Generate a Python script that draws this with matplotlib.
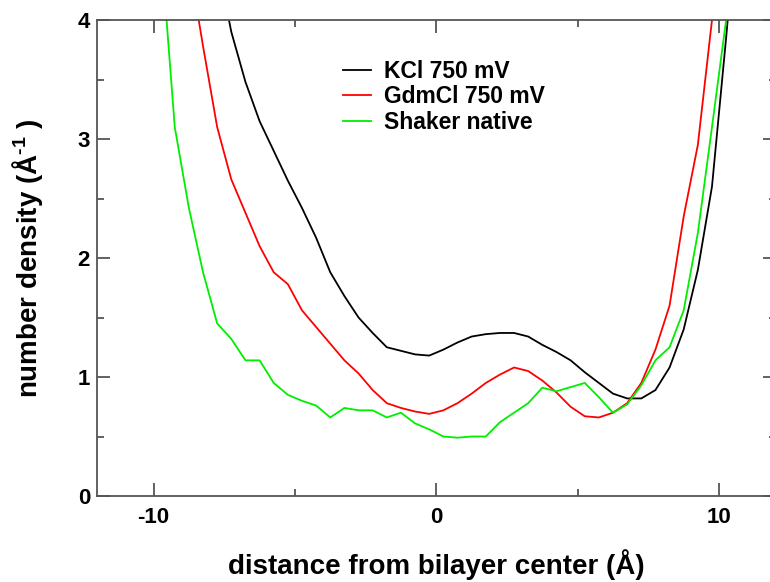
import numpy as np
import matplotlib
matplotlib.use("Agg")
from matplotlib import pyplot as plt

# distance from bilayer center (A), sampled every 0.5 A
distance = [-9.75, -9.25, -8.75, -8.25, -7.75, -7.25, -6.75, -6.25, -5.75, -5.25,
            -4.75, -4.25, -3.75, -3.25, -2.75, -2.25, -1.75, -1.25, -0.75, -0.25,
            0.25, 0.75, 1.25, 1.75, 2.25, 2.75, 3.25, 3.75, 4.25, 4.75,
            5.25, 5.75, 6.25, 6.75, 7.25, 7.75, 8.25, 8.75, 9.25, 9.75,
            10.25, 10.75]

nan = np.nan
kcl_750 = [nan, nan, nan, nan, 4.5, 3.9, 3.48, 3.15, 2.9, 2.65,
           2.42, 2.17, 1.88, 1.68, 1.50, 1.37, 1.25, 1.22, 1.19, 1.18,
           1.23, 1.29, 1.34, 1.36, 1.37, 1.37, 1.34, 1.27, 1.21, 1.14,
           1.04, 0.95, 0.86, 0.82, 0.82, 0.89, 1.08, 1.40, 1.90, 2.6,
           3.85, 5.2]
gdmcl_750 = [nan, nan, 4.5, 3.78, 3.1, 2.66, 2.38, 2.1, 1.88, 1.78,
             1.56, 1.42, 1.28, 1.14, 1.03, 0.89, 0.78, 0.74, 0.71, 0.69,
             0.72, 0.78, 0.86, 0.95, 1.02, 1.08, 1.05, 0.97, 0.87, 0.75,
             0.67, 0.66, 0.70, 0.78, 0.95, 1.23, 1.6, 2.35, 2.95, 4.0,
             5.2, nan]
shaker_native = [4.65, 3.1, 2.42, 1.88, 1.45, 1.32, 1.14, 1.14, 0.95, 0.85,
                 0.80, 0.76, 0.66, 0.74, 0.72, 0.72, 0.66, 0.70, 0.61, 0.56,
                 0.50, 0.49, 0.50, 0.50, 0.62, 0.70, 0.78, 0.91, 0.88, 0.915,
                 0.95, 0.83, 0.70, 0.77, 0.93, 1.14, 1.25, 1.56, 2.21, 3.1,
                 4.0, 5.5]

plt.rcParams['font.family'] = 'Liberation Sans'
plt.rcParams['font.weight'] = 'bold'
plt.rcParams['axes.unicode_minus'] = False
plt.rcParams['mathtext.fontset'] = 'custom'
plt.rcParams['mathtext.rm'] = 'Liberation Sans:bold'
plt.rcParams['mathtext.bf'] = 'Liberation Sans:bold'
plt.rcParams['mathtext.default'] = 'bf'

fig = plt.figure(figsize=(7.7, 5.82), dpi=100)
ax = fig.add_axes([97 / 770, 86 / 582, 678.6 / 770, 476 / 582])

ax.plot(distance, kcl_750, color='black', lw=1.3, label='KCl 750 mV')
ax.plot(distance, gdmcl_750, color='#ff0000', lw=1.3, label='GdmCl 750 mV')
ax.plot(distance, shaker_native, color='#00ee00', lw=1.3, label='Shaker native')

ax.set_xlim(-12, 12)
ax.set_ylim(0, 4)
ax.set_xticks([-10, 0, 10])
ax.set_xticks([-5, 5], minor=True)
ax.set_yticks([0, 1, 2, 3, 4])
ax.set_yticks([0.5, 1.5, 2.5, 3.5], minor=True)

spine_col = '#555555'
for s in ax.spines.values():
    s.set_color(spine_col)
    s.set_linewidth(1.3)
ax.tick_params(which='both', direction='in', top=True, right=True,
               color=spine_col, width=1.3, labelsize=16)
ax.tick_params(which='major', length=9.5)
ax.tick_params(which='minor', length=5)
ax.tick_params(axis='x', pad=8)
ax.tick_params(axis='y', pad=5)

ax.set_xlabel('distance from bilayer center (Å)', fontsize=20, fontweight='bold')
ax.xaxis.set_label_coords(0.5, -0.112)
ax.set_ylabel('number density (Å$^{\\text{-1}}$ )', fontsize=20, fontweight='bold')
ax.yaxis.set_label_coords(-0.077, 0.5)

ax.legend(loc='upper left', bbox_to_anchor=(343 / 770, 1 - 60 / 582),
          bbox_transform=fig.transFigure, frameon=False, fontsize=16.5,
          handlelength=1.2, handletextpad=0.6, labelspacing=0.1,
          borderpad=0, borderaxespad=0)

plt.savefig('out.png', dpi=100)
